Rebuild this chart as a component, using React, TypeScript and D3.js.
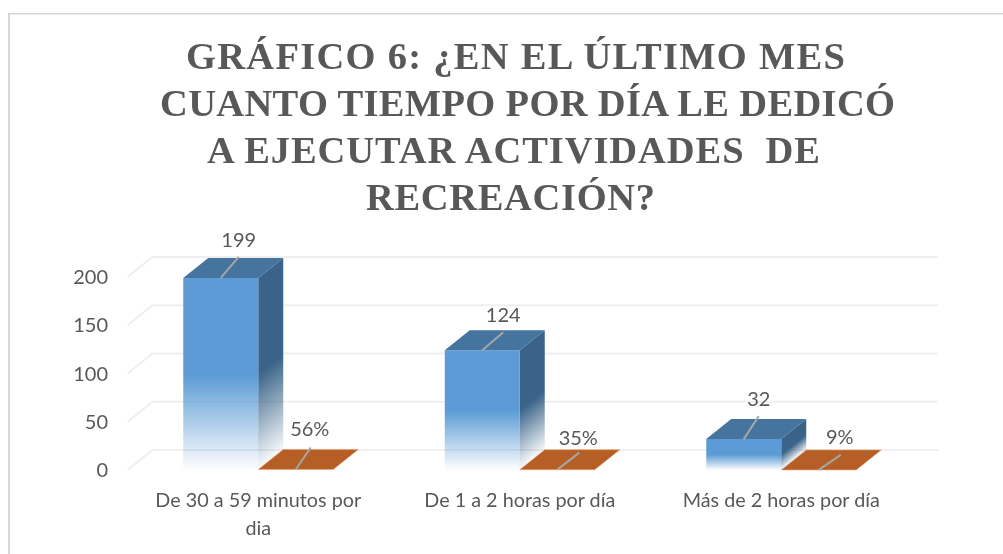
import React from "react";
import { scaleBand, scaleLinear, line } from "d3";

const WIDTH = 1003;
const HEIGHT = 554;

const titleLines = [
  "GRÁFICO 6: ¿EN EL ÚLTIMO MES",
  "CUANTO TIEMPO POR DÍA LE DEDICÓ",
  "A EJECUTAR ACTIVIDADES  DE",
  "RECREACIÓN?",
];
const categories = ["De 30 a 59 minutos por dia", "De 1 a 2 horas por día", "Más de 2 horas por día"];
const categoryLines = [["De 30 a 59 minutos por", "dia"], ["De 1 a 2 horas por día"], ["Más de 2 horas por día"]];
const counts = [199, 124, 32];
const shares = [0.56, 0.35, 0.09];
const shareLabels = ["56%", "35%", "9%"];

// hand placed data labels, excel moved them around in the original
const countLeader = [[18, 21], [21, 18], [15, 23]];
const shareLeader = [[15, 22], [22, 17], [22, 15]];
const countLabelGap = [11, 8, 13];
const shareLabelGap = [13, 5, 6];

const titleBox = [
  { left: 186, width: 659, baseline: 69 },
  { left: 160, width: 735, baseline: 116 },
  { left: 207, width: 613, baseline: 163 },
  { left: 366, width: 289, baseline: 210 },
];

const DEPTH_X = 25;
const DEPTH_Y = 20;
const TEXT = "#595959";
const FONT = "Lato, 'Open Sans', sans-serif";

const x = scaleBand<string>()
  .domain(categories)
  .range([127.5, 912])
  .paddingInner(1 - 150 / 261.5)
  .paddingOuter((1 - 150 / 261.5) / 2);
const sub = scaleBand<string>().domain(["count", "share"]).range([0, x.bandwidth()]);
const y = scaleLinear().domain([0, 200]).range([470, 277]);
const path = line();

function box(left: number, value: number) {
  const w = sub.bandwidth();
  const top = y(value);
  const base = y(0);
  const right = left + w;
  return {
    w,
    top,
    base,
    right,
    front: path([[left, top], [right, top], [right, base], [left, base]]) + "Z",
    roof: path([[left, top], [right, top], [right + DEPTH_X, top - DEPTH_Y], [left + DEPTH_X, top - DEPTH_Y]]) + "Z",
    side: path([[right, top], [right + DEPTH_X, top - DEPTH_Y], [right + DEPTH_X, base - DEPTH_Y], [right, base]]) + "Z",
  };
}

export default function App() {
  return (
    <svg
      width={WIDTH}
      height={HEIGHT}
      viewBox={`0 0 ${WIDTH} ${HEIGHT}`}
      style={{ position: "absolute", left: 0, top: 0, display: "block", background: "#fff" }}
    >
      <defs>
        <linearGradient id="frontFade" x1="0" y1="0" x2="0" y2="1">
          <stop offset="0.5" stopColor="#5b9bd5" />
          <stop offset="0.99" stopColor="#5b9bd5" stopOpacity="0.03" />
        </linearGradient>
        <filter id="soft" x="0" y="0" width="100%" height="100%">
          <feGaussianBlur stdDeviation="0.5" />
        </filter>
        {counts.map((v, i) => {
          // the side fades along its slanted bottom edge
          const b = box((x(categories[i]) as number) + (sub("count") as number), v);
          const mid = (b.top + b.base) / 2;
          const len = Math.hypot(DEPTH_X, DEPTH_Y);
          const nx = DEPTH_Y / len;
          const ny = DEPTH_X / len;
          const t = (b.base - mid) * ny;
          return (
            <linearGradient
              key={i}
              id={`sideFade${i}`}
              gradientUnits="userSpaceOnUse"
              x1={b.right}
              y1={mid}
              x2={b.right + nx * t}
              y2={mid + ny * t}
            >
              <stop offset="0" stopColor="#3a6489" />
              <stop offset="1" stopColor="#3a6489" stopOpacity="0.03" />
            </linearGradient>
          );
        })}
      </defs>

      <g filter="url(#soft)">
        <path d={`M8.7,${HEIGHT}V13.3H${WIDTH}`} fill="none" stroke="#d6d6d6" strokeWidth={2.5} />

        {titleLines.map((t, i) => (
          <text
            key={i}
            x={titleBox[i].left}
            y={titleBox[i].baseline}
            textLength={titleBox[i].width}
            lengthAdjust="spacing"
            fontFamily="'Liberation Serif', serif"
            fontWeight={700}
            fontSize={38.5}
            fill={TEXT}
            xmlSpace="preserve"
          >
            {t}
          </text>
        ))}

        {y.ticks(4).map((t) => (
          <g key={t}>
            <path
              d={path([[x.range()[0], y(t)], [x.range()[0] + DEPTH_X, y(t) - DEPTH_Y], [938, y(t) - DEPTH_Y]]) as string}
              fill="none"
              stroke="#efefef"
              strokeWidth={2}
            />
            <text x={108} y={y(t) + 7} textAnchor="end" fontFamily={FONT} fontSize={20} fill={TEXT}>
              {t}
            </text>
          </g>
        ))}

        {categories.map((c, i) => {
          const g0 = x(c) as number;
          const bar = box(g0 + (sub("count") as number), counts[i]);
          const plate = box(g0 + (sub("share") as number), shares[i]);
          const barMid = bar.right - bar.w / 2;
          const plateMid = plate.right - plate.w / 2;
          return (
            <g key={c}>
              <path d={bar.side} fill={`url(#sideFade${i})`} />
              <path d={bar.front} fill="url(#frontFade)" />
              <path d={bar.roof} fill="#44749f" />
              <path d={plate.roof} fill="#b55f25" stroke="#f0a070" strokeWidth={0.6} />

              <path
                d={path([[barMid, bar.top], [barMid + countLeader[i][0], bar.top - countLeader[i][1]]]) as string}
                stroke="#a6a6a6"
                strokeWidth={2}
              />
              <path
                d={path([[plateMid, plate.top], [plateMid + shareLeader[i][0], plate.top - shareLeader[i][1]]]) as string}
                stroke="#a6a6a6"
                strokeWidth={2}
              />

              <text
                x={barMid + countLeader[i][0]}
                y={bar.top - DEPTH_Y - countLabelGap[i]}
                textAnchor="middle"
                fontFamily={FONT}
                fontSize={20}
                fill={TEXT}
              >
                {counts[i]}
              </text>
              <text
                x={plateMid + shareLeader[i][0] - 1}
                y={plate.top - DEPTH_Y - shareLabelGap[i]}
                textAnchor="middle"
                fontFamily={FONT}
                fontSize={20}
                fill={TEXT}
              >
                {shareLabels[i]}
              </text>

              <text textAnchor="middle" fontFamily={FONT} fontSize={19.8} fill={TEXT}>
                {categoryLines[i].map((l, k) => (
                  <tspan key={k} x={g0 + x.bandwidth() / 2} y={507 + k * 28}>
                    {l}
                  </tspan>
                ))}
              </text>
            </g>
          );
        })}
      </g>
    </svg>
  );
}
